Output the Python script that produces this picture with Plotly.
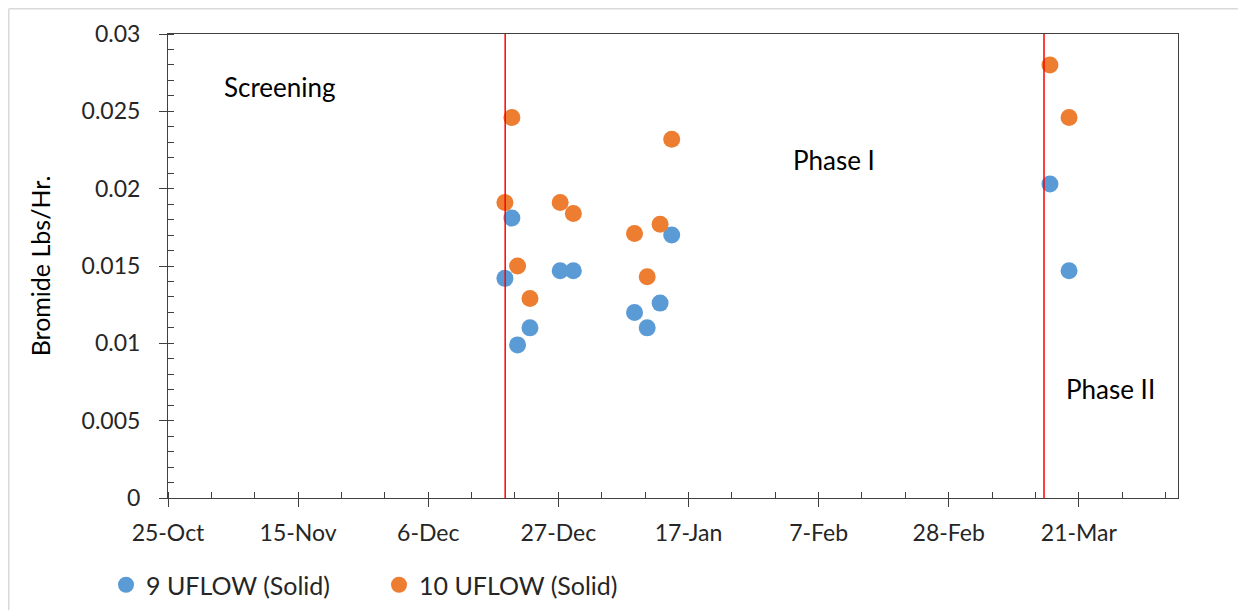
import plotly.graph_objects as go

# ---- data ----
sample_times = [
    "2020-12-18 09:00", "2020-12-19 12:00", "2020-12-20 10:00", "2020-12-22 10:00",
    "2020-12-27 07:00", "2020-12-29 10:00", "2021-01-08 07:00", "2021-01-10 08:00",
    "2021-01-12 10:00", "2021-01-14 07:00", "2021-03-16 08:00", "2021-03-19 10:00",
]
uflow9 = [0.0142, 0.0181, 0.0099, 0.0110, 0.0147, 0.0147, 0.0120, 0.0110,
          0.0126, 0.0170, 0.0203, 0.0147]
uflow10 = [0.0191, 0.0246, 0.0150, 0.0129, 0.0191, 0.0184, 0.0171, 0.0143,
           0.0177, 0.0232, 0.0280, 0.0246]
series_names = ["9 UFLOW (Solid)", "10 UFLOW (Solid)"]
phase_boundaries = ["2020-12-18 10:00", "2021-03-15 09:00"]
phase_labels = ["Screening", "Phase I", "Phase II"]
x_range = ["2020-10-25", "2021-04-06"]
y_range = [0, 0.03]

FONT = "Lato"
BLUE = "#5B9BD5"
ORANGE = "#ED7D31"
AXIS = "#404040"
TXT = "#262626"

# figure geometry (page has 8px body margin)
W, H = 1238, 602
L, R, T, B = 160, 68, 26, 112
PW, PH = W - L - R, H - T - B

fig = go.Figure()
for name, vals, col in [(series_names[0], uflow9, BLUE), (series_names[1], uflow10, ORANGE)]:
    fig.add_trace(go.Scatter(
        x=sample_times, y=vals, mode="markers", name=name,
        marker=dict(color=col, size=17, line=dict(width=0)),
    ))

for xb in phase_boundaries:
    fig.add_shape(type="line", xref="x", yref="paper", x0=xb, x1=xb, y0=0, y1=1,
                  line=dict(color="#FF0000", width=1.5), layer="above")

ann_pos = [(0.111, 0.886), (0.659, 0.728), (0.933, 0.235)]
for label, (ax, ay) in zip(phase_labels, ann_pos):
    fig.add_annotation(text=label, xref="paper", yref="paper", x=ax, y=ay,
                       showarrow=False, xanchor="center", yanchor="middle",
                       font=dict(family=FONT, size=26, color="#000000"))

# light outer frame (left and top edges, as in the reference)
fx = (0.75 - L) / PW
fy = (PH + T - 0.75) / PH
fig.add_shape(type="line", xref="paper", yref="paper",
              x0=fx, x1=fx, y0=(PH + T - H - 2) / PH, y1=fy,
              line=dict(color="#D9D9D9", width=1.5), layer="above")
fig.add_shape(type="line", xref="paper", yref="paper",
              x0=fx, x1=(W + 2 - L) / PW, y0=fy, y1=fy,
              line=dict(color="#D9D9D9", width=1.5), layer="above")

fig.update_layout(
    width=W, height=H,
    margin=dict(l=L, r=R, t=T, b=B, autoexpand=False),
    paper_bgcolor="white", plot_bgcolor="white",
    font=dict(family=FONT, size=22, color=TXT),
    showlegend=True,
    legend=dict(orientation="h", x=(98 - L) / PW, y=-0.1875, xanchor="left", yanchor="middle",
                font=dict(family=FONT, size=25, color=TXT),
                entrywidth=228, bgcolor="rgba(0,0,0,0)"),
    xaxis=dict(
        type="date", range=x_range, tick0="2020-10-25", dtick=21 * 86400000,
        tickformat="%-d-%b", showgrid=False, zeroline=False,
        showline=True, linecolor=AXIS, linewidth=1, mirror=True,
        ticks="outside", ticklen=8, tickcolor=AXIS, tickwidth=1,
        ticklabelstandoff=6,
        tickfont=dict(family=FONT, size=23, color=TXT),
        minor=dict(dtick=7 * 86400000, tick0="2020-10-25", ticks="inside", ticklen=6,
                   tickcolor=AXIS, showgrid=False),
    ),
    yaxis=dict(
        range=y_range, dtick=0.005, tick0=0, showgrid=False, zeroline=False,
        showline=True, linecolor=AXIS, linewidth=1, mirror=True,
        ticks="outside", ticklen=8, tickcolor=AXIS, tickwidth=1,
        ticklabelstandoff=14,
        tickfont=dict(family=FONT, size=23, color=TXT),
        title=dict(text="Bromide Lbs/Hr.", font=dict(family=FONT, size=25, color="#000000"), standoff=23),
        minor=dict(dtick=0.001, tick0=0, ticks="inside", ticklen=6, tickcolor=AXIS, showgrid=False),
    ),
)

fig.write_html("out.html")
